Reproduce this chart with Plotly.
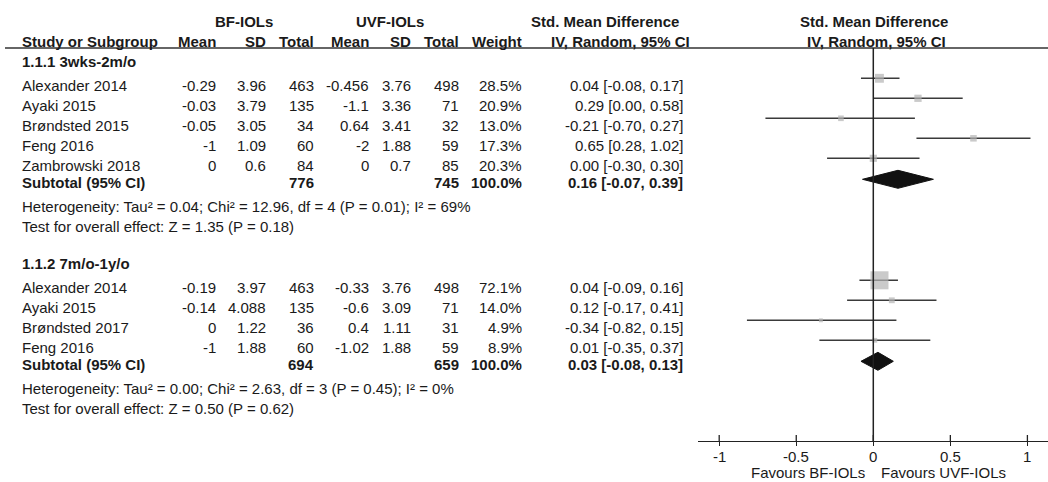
import plotly.graph_objects as go

# ---------------- data ----------------
group_titles = ["1.1.1 3wks-2m/o", "1.1.2 7m/o-1y/o"]

studies1 = ["Alexander 2014", "Ayaki 2015", "Brøndsted 2015", "Feng 2016", "Zambrowski 2018"]
bf_mean1 = [-0.29, -0.03, -0.05, -1, 0]
bf_sd1 = [3.96, 3.79, 3.05, 1.09, 0.6]
bf_n1 = [463, 135, 34, 60, 84]
uvf_mean1 = [-0.456, -1.1, 0.64, -2, 0]
uvf_sd1 = [3.76, 3.36, 3.41, 1.88, 0.7]
uvf_n1 = [498, 71, 32, 59, 85]
weight1 = [28.5, 20.9, 13.0, 17.3, 20.3]
smd1 = [0.04, 0.29, -0.21, 0.65, 0.00]
lo1 = [-0.08, 0.00, -0.70, 0.28, -0.30]
hi1 = [0.17, 0.58, 0.27, 1.02, 0.30]
sub1 = [0.16, -0.07, 0.39]
tot1 = [776, 745]
subw1 = 100.0
het1 = "Heterogeneity: Tau² = 0.04; Chi² = 12.96, df = 4 (P = 0.01); I² = 69%"
test1 = "Test for overall effect: Z = 1.35 (P = 0.18)"

studies2 = ["Alexander 2014", "Ayaki 2015", "Brøndsted 2017", "Feng 2016"]
bf_mean2 = [-0.19, -0.14, 0, -1]
bf_sd2 = [3.97, 4.088, 1.22, 1.88]
bf_n2 = [463, 135, 36, 60]
uvf_mean2 = [-0.33, -0.6, 0.4, -1.02]
uvf_sd2 = [3.76, 3.09, 1.11, 1.88]
uvf_n2 = [498, 71, 31, 59]
weight2 = [72.1, 14.0, 4.9, 8.9]
smd2 = [0.04, 0.12, -0.34, 0.01]
lo2 = [-0.09, -0.17, -0.82, -0.35]
hi2 = [0.16, 0.41, 0.15, 0.37]
sub2 = [0.03, -0.08, 0.13]
tot2 = [694, 659]
subw2 = 100.0
het2 = "Heterogeneity: Tau² = 0.00; Chi² = 2.63, df = 3 (P = 0.45); I² = 0%"
test2 = "Test for overall effect: Z = 0.50 (P = 0.62)"

tick_vals = [-1, -0.5, 0, 0.5, 1]
tick_text = ["-1", "-0.5", "0", "0.5", "1"]
favours = ["Favours BF-IOLs", "Favours UVF-IOLs"]

# ---------------- layout constants ----------------
W, H = 1048, 482
AXIS_Y = 441
FONT = "Liberation Sans, Arial, sans-serif"
FS = 15
TXT = "#1a1a1a"
LINE = "#3a3a3a"
SQ = "#b3b3b3"

fig = go.Figure()
ann = []


def text(xpx, y, s, anchor="right", bold=False, size=FS):
    ann.append(dict(x=xpx / W, xref="paper", y=y, yref="y", text=(f"<b>{s}</b>" if bold else s),
                    showarrow=False, xanchor=anchor, yanchor="middle",
                    font=dict(family=FONT, size=size, color=TXT)))


def fmt(v):
    return f"{v:g}"


# column right edges (px)
C_NAME = 20
C_BFM, C_BFSD, C_BFN = 218, 268, 316
C_UM, C_USD, C_UN = 371, 413, 461
C_W, C_CI = 524, 685

# headers
text(244, 21.7, "BF-IOLs", "center", True)
text(390, 21.7, "UVF-IOLs", "center", True)
text(605, 21.7, "Std. Mean Difference", "center", True)
text(874, 21.7, "Std. Mean Difference", "center", True)
hy = 41.7
text(C_NAME, hy, "Study or Subgroup", "left", True)
text(C_BFM, hy, "Mean", "right", True)
text(C_BFSD, hy, "SD", "right", True)
text(C_BFN, hy, "Total", "right", True)
text(C_UM, hy, "Mean", "right", True)
text(C_USD, hy, "SD", "right", True)
text(C_UN, hy, "Total", "right", True)
text(C_W, hy, "Weight", "right", True)
text(692, hy, "IV, Random, 95% CI", "right", True)
text(876, hy, "IV, Random, 95% CI", "center", True)

groups = [
    (group_titles[0], studies1, bf_mean1, bf_sd1, bf_n1, uvf_mean1, uvf_sd1, uvf_n1, weight1, smd1, lo1, hi1, sub1, tot1, subw1, het1, test1, 61.7),
    (group_titles[1], studies2, bf_mean2, bf_sd2, bf_n2, uvf_mean2, uvf_sd2, uvf_n2, weight2, smd2, lo2, hi2, sub2, tot2, subw2, het2, test2, 263.7),
]

ROW = 20
for (title, st, bm, bs, bn, um, us, un, wt, es, lo, hi, sub, tot, subw, het, tst, y0) in groups:
    text(C_NAME, y0, title, "left", True)
    ys = []
    for i, name in enumerate(st):
        y = y0 + 23.6 + i * ROW
        ys.append(y)
        text(C_NAME, y, name, "left")
        text(C_BFM, y, fmt(bm[i]))
        text(C_BFSD, y, fmt(bs[i]))
        text(C_BFN, y, str(bn[i]))
        text(C_UM, y, fmt(um[i]))
        text(C_USD, y, fmt(us[i]))
        text(C_UN, y, str(un[i]))
        text(C_W, y, f"{wt[i]:.1f}%")
        text(C_CI, y, f"{es[i]:.2f} [{lo[i]:.2f}, {hi[i]:.2f}]")
    ysub = ys[-1] + 17.5
    text(C_NAME, ysub, "Subtotal (95% CI)", "left", True)
    text(C_BFN, ysub, str(tot[0]), "right", True)
    text(C_UN, ysub, str(tot[1]), "right", True)
    text(C_W, ysub, f"{subw:.1f}%", "right", True)
    text(C_CI, ysub, f"{sub[0]:.2f} [{sub[1]:.2f}, {sub[2]:.2f}]", "right", True)
    text(C_NAME, ysub + 23.5, het, "left")
    text(C_NAME, ysub + 43.5, tst, "left")

    # forest marks
    py = [y - 7 for y in ys]
    lx, ly = [], []
    for i in range(len(es)):
        lx += [lo[i], hi[i], None]
        ly += [py[i], py[i], None]
    fig.add_trace(go.Scatter(x=lx, y=ly, mode="lines", line=dict(color=LINE, width=1.4),
                             hoverinfo="skip", showlegend=False))
    fig.add_trace(go.Scatter(x=es, y=py, mode="markers",
                             marker=dict(symbol="square", color=SQ, size=[2.9 + 0.21 * w for w in wt],
                                         line=dict(width=0)),
                             showlegend=False))
    dy = ysub - 3.5
    fig.add_trace(go.Scatter(x=[sub[1], sub[0], sub[2], sub[0], sub[1]],
                             y=[dy, dy - 9, dy, dy + 9, dy], mode="lines", fill="toself",
                             fillcolor="#111111", line=dict(color="#111111", width=1),
                             showlegend=False, hoverinfo="skip"))

# inner half of the crossing tick marks
fig.add_trace(go.Scatter(x=tick_vals, y=[AXIS_Y - 2.5] * len(tick_vals), mode="markers", cliponaxis=False,
                         marker=dict(symbol="line-ns", size=5, line=dict(color="#222222", width=1.3)),
                         showlegend=False, hoverinfo="skip"))

# tick labels (as annotations for tight vertical placement)
for v, t in zip(tick_vals, tick_text):
    ann.append(dict(x=v, xref="x", y=(H - 447) / H, yref="paper", text=t, showarrow=False,
                    xanchor="center", yanchor="top", borderpad=0,
                    font=dict(family=FONT, size=FS, color=TXT)))

# favours labels
ann.append(dict(x=-0.05, xref="x", y=0, yref="paper", text=favours[0], showarrow=False,
                xanchor="right", yanchor="bottom", borderpad=0,
                font=dict(family=FONT, size=FS, color=TXT)))
ann.append(dict(x=0.045, xref="x", y=0, yref="paper", text=favours[1], showarrow=False,
                xanchor="left", yanchor="bottom", borderpad=0,
                font=dict(family=FONT, size=FS, color=TXT)))

shapes = [
    dict(type="line", xref="paper", yref="y", x0=5 / W, x1=1, y0=48, y1=48,
         line=dict(color="#333333", width=1.5)),
    dict(type="line", xref="x", yref="y", x0=0, x1=0, y0=48, y1=AXIS_Y,
         line=dict(color="#222222", width=1.5)),
]

zero_px, scale = 873.3, 154.1
x0px = 698
fig.update_layout(
    width=W, height=H, margin=dict(l=0, r=0, t=0, b=0, autoexpand=False),
    paper_bgcolor="white", plot_bgcolor="white",
    xaxis=dict(domain=[x0px / W, 1], range=[-(zero_px - x0px) / scale, (W - zero_px) / scale],
               showgrid=False, zeroline=False, showline=True, linecolor="#222222", linewidth=1.3,
               ticks="outside", ticklen=4, tickwidth=1.3, tickcolor="#222222",
               tickvals=tick_vals, showticklabels=False, fixedrange=True),
    yaxis=dict(domain=[(H - AXIS_Y) / H, 1], range=[AXIS_Y, 0], visible=False, fixedrange=True),
    annotations=ann, shapes=shapes, showlegend=False,
)

fig.write_html("out.html", config={"displayModeBar": False},
               post_script="document.body.style.margin='0px';document.body.style.overflow='hidden';")
